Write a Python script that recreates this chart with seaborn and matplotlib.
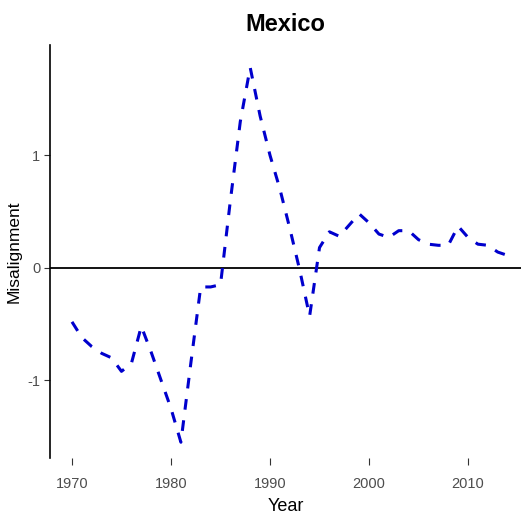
import numpy as np
import pandas as pd
import matplotlib
matplotlib.use('Agg')
import matplotlib.pyplot as plt
import seaborn as sns

# 연도별 환율 괴리(misalignment) - 멕시코
years = list(range(1970, 2015))
misalignment = [
    -0.48, -0.62, -0.70, -0.76, -0.80, -0.92, -0.85, -0.52, -0.75, -1.00,
    -1.25, -1.55, -0.85, -0.17, -0.17, -0.15, 0.60, 1.30, 1.78, 1.35,
    1.00, 0.70, 0.35, -0.02, -0.43, 0.18, 0.32, 0.28, 0.38, 0.48,
    0.40, 0.30, 0.27, 0.33, 0.33, 0.25, 0.21, 0.20, 0.20, 0.37,
    0.27, 0.21, 0.20, 0.14, 0.11,
]
x_ticks = [1970, 1980, 1990, 2000, 2010]
y_ticks = [-1, 0, 1]

df = pd.DataFrame({'Year': years, 'Misalignment': misalignment})

sns.set_style('white')
fam = ['Liberation Sans', 'DejaVu Sans']

fig = plt.figure(figsize=(5.26, 5.21), dpi=100)
ax = fig.add_axes([50 / 526, 1 - 458 / 521, 471 / 526, 413 / 521])

ax.axhline(0, color='black', lw=1.3, zorder=1)
sns.lineplot(data=df, x='Year', y='Misalignment', ax=ax,
             color='#0000CD', lw=2.2, zorder=2)
ax.lines[-1].set_dashes((3.5, 3.5))

ax.set_xlim(1967.78, 2015.35)
ax.set_ylim(-1.69, 1.98)
ax.set_xticks(x_ticks)
ax.set_yticks(y_ticks)
ax.set_xticklabels([str(t) for t in x_ticks], family=fam, fontsize=10.5, color='#4d4d4d')
ax.set_yticklabels([str(t) for t in y_ticks], family=fam, fontsize=10.5, color='#4d4d4d')

# 아래쪽 축선은 없음, 왼쪽 축선만
for s in ['top', 'right', 'bottom']:
    ax.spines[s].set_visible(False)
ax.spines['left'].set_color('black')
ax.spines['left'].set_linewidth(1.2)

ax.tick_params(axis='y', left=True, length=4, width=0.8, colors='#333333', pad=3)
ax.tick_params(axis='x', bottom=True, length=5, width=0.8, colors='#333333', pad=9)
for lab in ax.get_xticklabels() + ax.get_yticklabels():
    lab.set_color('#4d4d4d')

ax.set_xlabel('Year', family=fam, fontsize=13, labelpad=5, color='black')
ax.set_ylabel('Misalignment', family=fam, fontsize=12.5, labelpad=4, color='black')
ax.set_title('Mexico', family=fam, fontsize=17, fontweight='bold', pad=10, color='black')

fig.savefig('out.png', dpi=100)
